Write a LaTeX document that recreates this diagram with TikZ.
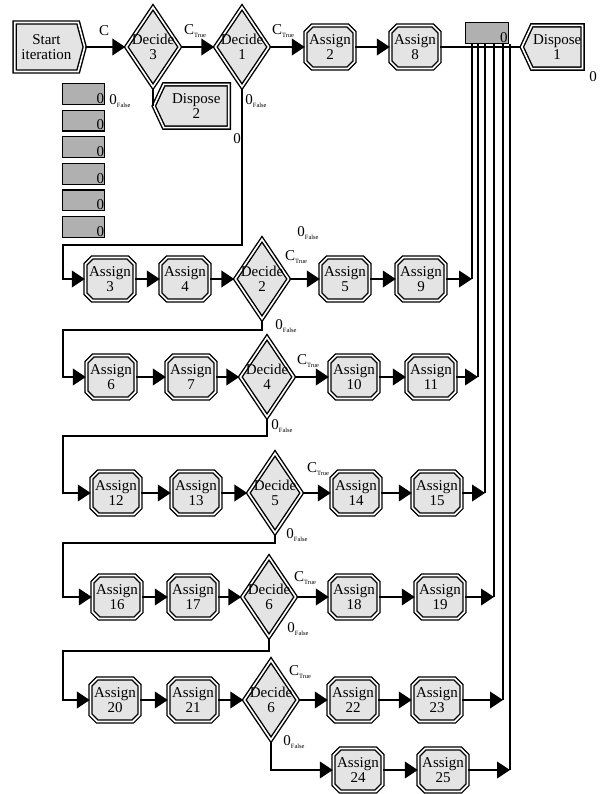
\documentclass[tikz,border=0pt]{standalone}
\usepackage{fontspec}
\setmainfont{Liberation Serif}
\usetikzlibrary{arrows.meta, shapes.geometric, shapes.misc, shapes.symbols}

\definecolor{shapegray}{HTML}{E4E4E4}
\definecolor{countgray}{HTML}{B0B0B0}
\newcommand{\portlab}[2]{#1\raisebox{-0.5ex}{\fontsize{5.5}{6}\selectfont #2}}

\begin{document}
\begin{tikzpicture}[x=0.3mm, y=-0.3mm,
    >={Triangle[length=3.9mm, width=5mm]},
    font=\fontsize{12.8}{13}\selectfont,
    module/.style={draw=black, line width=1.2pt, double=white, double distance=1.4pt, fill=shapegray, inner sep=0pt, align=center},
    assign/.style={module, chamfered rectangle, chamfered rectangle xsep=1mm, chamfered rectangle ysep=1mm, minimum width=14.7mm, minimum height=12.9mm},
    decide/.style={module, diamond, minimum width=16.2mm, minimum height=24mm},
    start/.style={module, signal, signal to=east, signal pointer angle=150, minimum width=21mm, minimum height=14.7mm},
    dispose/.style={module, signal, signal to=west, signal pointer angle=130, inner xsep=1pt, minimum height=13mm},
    counter/.style={draw=black, line width=1pt, fill=countgray, minimum width=12.8mm, minimum height=6.2mm, inner sep=0pt,
        label={[anchor=south east, inner sep=1pt]south east:0}},
    conn/.style={line width=0.55mm},
]
\useasboundingbox (0,0) rectangle (601,794);

% First row
\node[start, anchor=west] (start) at (14,47) {Start\\iteration};
\node[decide, label={[align=center]center:Decide\\3}] (d3) at (153,47) {};
\node[decide, label={[align=center]center:Decide\\1}] (d1) at (242,47) {};
\node[assign] (a2) at (330,47) {Assign\\2};
\node[assign] (a8) at (415,47) {Assign\\8};
\node[counter] (cnt) at (487,33) {};
\node[dispose, anchor=west] (disp1) at (521,47) {Dispose\\1};
\node[dispose, anchor=west, minimum width=22.5mm] (disp2) at (153,106) {Dispose\\2};

% Counters on the left
\foreach \i in {0,...,5}
    \node[counter] (cq\i) at (83.5,{94+26.6*\i}) {};

% Row 2
\node[assign] (a3) at (110,279) {Assign\\3};
\node[assign] (a4) at (185,279) {Assign\\4};
\node[decide, label={[align=center]center:Decide\\2}] (d2) at (262,279) {};
\node[assign] (a5) at (345,279) {Assign\\5};
\node[assign] (a9) at (421,279) {Assign\\9};
\coordinate (b2) at (472,279);

% Row 3
\node[assign] (a6) at (111,377) {Assign\\6};
\node[assign] (a7) at (191,377) {Assign\\7};
\node[decide, label={[align=center]center:Decide\\4}] (d4) at (267,377) {};
\node[assign] (a10) at (354,377) {Assign\\10};
\node[assign] (a11) at (431,377) {Assign\\11};
\coordinate (b3) at (478,377);

% Row 4
\node[assign] (a12) at (116,493) {Assign\\12};
\node[assign] (a13) at (196,493) {Assign\\13};
\node[decide, label={[align=center]center:Decide\\5}] (d5) at (275,493) {};
\node[assign] (a14) at (356,493) {Assign\\14};
\node[assign] (a15) at (437,493) {Assign\\15};
\coordinate (b4) at (485,493);

% Row 5
\node[assign] (a16) at (117,597) {Assign\\16};
\node[assign] (a17) at (193,597) {Assign\\17};
\node[decide, label={[align=center]center:Decide\\6}] (d6) at (269,597) {};
\node[assign] (a18) at (354,597) {Assign\\18};
\node[assign] (a19) at (440,597) {Assign\\19};
\coordinate (b5) at (494,597);

% Row 6
\node[assign] (a20) at (115,700) {Assign\\20};
\node[assign] (a21) at (193,700) {Assign\\21};
\node[decide, label={[align=center]center:Decide\\6}] (d6b) at (271,700) {};
\node[assign] (a22) at (353,700) {Assign\\22};
\node[assign] (a23) at (437,700) {Assign\\23};
\coordinate (b6) at (503,700);

% Row 7
\node[assign] (a24) at (358,770) {Assign\\24};
\node[assign] (a25) at (443,770) {Assign\\25};
\coordinate (b7) at (510,770);

% Main flow
\foreach \u/\v in {start/d3, d3/d1, d1/a2, a2/a8,
    a3/a4, a4/d2, d2/a5, a5/a9, a9/b2,
    a6/a7, a7/d4, d4/a10, a10/a11, a11/b3,
    a12/a13, a13/d5, d5/a14, a14/a15, a15/b4,
    a16/a17, a17/d6, d6/a18, a18/a19, a19/b5,
    a20/a21, a21/d6b, d6b/a22, a22/a23, a23/b6,
    a24/a25, a25/b7}
    \draw[conn, ->] (\u) -- (\v);

% Exits to the disposes
\draw[conn] (d3.south) -- (disp2.west);
\draw[conn] (a8.east) -- (disp1.west);
\foreach \b in {b2,b3,b4,b5,b6,b7}
    \draw[conn] (\b) -- (\b |- cnt.south);

% False branches
\coordinate (f2) at (63,245);
\coordinate (f3) at (63,330);
\coordinate (f4) at (63,436);
\coordinate (f5) at (63,543);
\coordinate (f6) at (63,651);
\draw[conn, ->] (d1.south) |- (f2) |- (a3.west);
\draw[conn, ->] (d2.south) |- (f3) |- (a6.west);
\draw[conn, ->] (d4.south) |- (f4) |- (a12.west);
\draw[conn, ->] (d5.south) |- (f5) |- (a16.west);
\draw[conn, ->] (d6.south) |- (f6) |- (a20.west);
\draw[conn, ->] (d6b.south) |- (a24.west);

% Connector labels
\node (lc) at (104,31) {C};
\node (lt3) at (195,31) {\portlab{C}{True}};
\node (lt1) at (283,31) {\portlab{C}{True}};
\node (lf3) at (120,101) {\portlab{0}{False}};
\node (lf1) at (256,101) {\portlab{0}{False}};
\node (lz2) at (237,139) {0};
\node (lz1) at (593,77) {0};
\node (lfx) at (308,233) {\portlab{0}{False}};
\node (lt2) at (296,257) {\portlab{C}{True}};
\node (lf2) at (286,326) {\portlab{0}{False}};
\node (lt4) at (308,361) {\portlab{C}{True}};
\node (lf4) at (282,426) {\portlab{0}{False}};
\node (lt5) at (318,469) {\portlab{C}{True}};
\node (lf5) at (297,535) {\portlab{0}{False}};
\node (lt6) at (305,578) {\portlab{C}{True}};
\node (lf6) at (298,629) {\portlab{0}{False}};
\node (lt6b) at (300,672) {\portlab{C}{True}};
\node (lf6b) at (294,742) {\portlab{0}{False}};

\end{tikzpicture}
\end{document}
